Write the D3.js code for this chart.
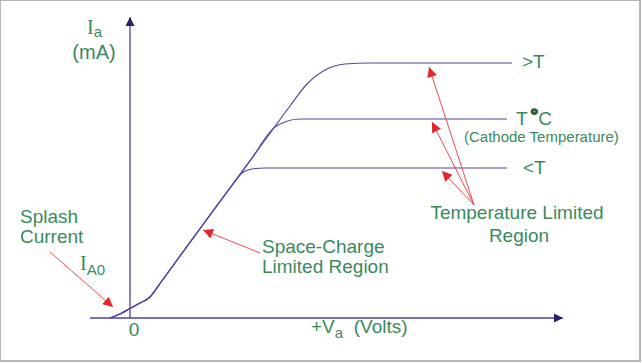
<!DOCTYPE html>
<html>
<head>
<meta charset="utf-8">
<script src="https://cdn.jsdelivr.net/npm/d3@7/dist/d3.min.js"></script>
<style>
  body { margin: 0; background: #fff; }
  svg { display: block; }
  text { font-family: "Liberation Sans", Arial, sans-serif; fill: #3a8a5c; }
</style>
</head>
<body>
<div id="viz"></div>
<script>
// anode characteristic, arbitrary units: Va (x) vs Ia (y)
const risePts = [[-2, 0], [-1, 0.4], [0, 0.95], [1, 1.5], [2, 2.1], [3, 3.45], [5, 6.2], [8, 10.3]];
const lowT = [[10, 13], [11.2, 14.5], [12.2, 14.9], [13.5, 15], [37.7, 15]];
const midT = [[10, 13], [12, 15.7], [14.5, 19.1], [15.6, 19.65], [17, 19.9], [18.5, 19.9], [37.7, 19.9]];
const highT = [[10, 13], [13, 17.1], [16, 21.2], [17.7, 23.4], [19.5, 24.8], [21.5, 25.4], [24, 25.5], [38.2, 25.5]];
const curves = [lowT, midT, highT];

const tempLabels = ['<T', 'T', '>T'];
const tempLabelPos = [[39.3, 14.4], [38.6, 19.3], [39.2, 25]];

// red pointer arrows [from, to]
const pointers = [
  [[34.4, 11.3], [29.9, 25.1]],
  [[34.4, 11.3], [30.2, 19.6]],
  [[34.4, 11.3], [31.2, 14.7]],
  [[13, 6.5], [7.3, 8.8]],
  [[-8, 6.6], [-1.7, 1.1]]
];

let dimensions = { width: 642, height: 363 };

const x = d3.scaleLinear().domain([0, 43]).range([130, 560]);
const y = d3.scaleLinear().domain([0, 30]).range([318, 18]);

const svg = d3.select('#viz').append('svg')
  .attr('width', dimensions.width)
  .attr('height', dimensions.height);

// frame
svg.append('rect')
  .attr('x', 0).attr('y', 0)
  .attr('width', 640).attr('height', 361)
  .attr('fill', '#fff')
  .attr('stroke', '#b4b4b4').attr('stroke-width', 2);

const defs = svg.append('defs');
defs.append('marker')
  .attr('id', 'axisHead')
  .attr('viewBox', '0 0 10 10')
  .attr('refX', 10).attr('refY', 5)
  .attr('markerWidth', 9).attr('markerHeight', 9)
  .attr('markerUnits', 'userSpaceOnUse')
  .attr('orient', 'auto')
  .append('path').attr('d', 'M0,0L10,5L0,10Z').attr('fill', '#26206e');
defs.append('marker')
  .attr('id', 'redHead')
  .attr('viewBox', '0 0 10 10')
  .attr('refX', 10).attr('refY', 5)
  .attr('markerWidth', 13).attr('markerHeight', 10)
  .attr('markerUnits', 'userSpaceOnUse')
  .attr('orient', 'auto')
  .append('path').attr('d', 'M0,0L10,5L0,10Z').attr('fill', '#e8262a');

// axes
svg.append('line')
  .attr('x1', x(-4)).attr('x2', x(43.3))
  .attr('y1', y(0)).attr('y2', y(0))
  .attr('stroke', '#4b3f9a').attr('stroke-width', 1.3)
  .attr('marker-end', 'url(#axisHead)');
svg.append('line')
  .attr('x1', x(0)).attr('x2', x(0))
  .attr('y1', y(0)).attr('y2', y(30.1))
  .attr('stroke', '#4b3f9a').attr('stroke-width', 1.3)
  .attr('marker-end', 'url(#axisHead)');

// curves
const lineGen = d3.line()
  .x(d => x(d[0]))
  .y(d => y(d[1]))
  .curve(d3.curveMonotoneX);

svg.selectAll('path.curve')
  .data(curves)
  .join('path')
  .attr('class', 'curve')
  .attr('d', d => lineGen(risePts.concat(d)))
  .attr('fill', 'none')
  .attr('stroke', '#5547a3')
  .attr('stroke-width', 1.2);

// red pointers
svg.selectAll('line.pointer')
  .data(pointers)
  .join('line')
  .attr('class', 'pointer')
  .attr('x1', d => x(d[0][0])).attr('y1', d => y(d[0][1]))
  .attr('x2', d => x(d[1][0])).attr('y2', d => y(d[1][1]))
  .attr('stroke', '#ef4a4a').attr('stroke-width', 1)
  .attr('marker-end', 'url(#redHead)');

// labels
const fs = 19;
const label = (txt, vx, vy, anchor, size) => svg.append('text')
  .attr('x', x(vx)).attr('y', y(vy))
  .attr('text-anchor', anchor || 'start')
  .style('font-size', (size || fs) + 'px')
  .text(txt);

// y axis title
const ia = svg.append('text')
  .attr('x', x(-3.55)).attr('y', y(28.4))
  .attr('text-anchor', 'middle')
  .style('font-size', '20px');
ia.append('tspan').style('font-family', '"Liberation Serif", serif').text('I');
ia.append('tspan').attr('dy', 3).style('font-size', '15px').text('a');
label('(mA)', -3.6, 25.9, 'middle', 20);

label('Splash', -11, 9.5);
label('Current', -11, 7.5);
const ia0 = svg.append('text')
  .attr('x', x(-5)).attr('y', y(4.8))
  .style('font-size', '20px');
ia0.append('tspan').style('font-family', '"Liberation Serif", serif').text('I');
ia0.append('tspan').attr('dy', 5).style('font-size', '15px').text('A0');

label('0', 0.4, -1.8, 'middle');
const va = svg.append('text')
  .attr('x', x(18.1)).attr('y', y(-1.5))
  .style('font-size', fs + 'px');
va.append('tspan').text('+V');
va.append('tspan').attr('dy', 5).style('font-size', '15px').text('a');
va.append('tspan').attr('dy', -5).text('\u00a0 (Volts)');

label('Space-Charge', 13.2, 6.5);
label('Limited Region', 13.2, 4.5);
label('Temperature Limited', 38.7, 9.9, 'middle');
label('Region', 38.9, 7.6, 'middle');

tempLabels.forEach((t, i) => {
  const tx = svg.append('text')
    .attr('x', x(tempLabelPos[i][0])).attr('y', y(tempLabelPos[i][1]))
    .style('font-size', fs + 'px');
  tx.append('tspan').text(t);
  if (t === 'T') {
    tx.append('tspan').attr('dx', 3).attr('dy', -4)
      .style('fill', '#2d5e44').style('font-weight', 'bold')
      .style('stroke', '#2d5e44').style('stroke-width', 1.5).text('\u00b0');
    tx.append('tspan').attr('dy', 4).text('C');
  }
});
label('(Cathode Temperature)', 33.4, 17.6, 'start', 15);
</script>
</body>
</html>
